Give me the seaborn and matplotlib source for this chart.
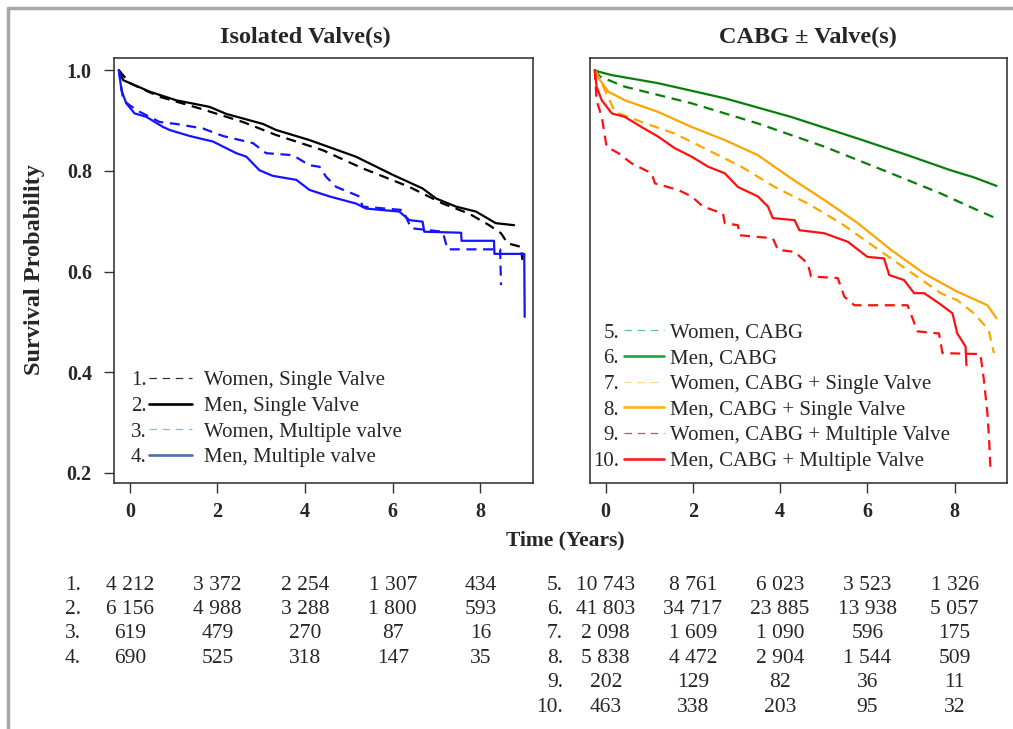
import numpy as np
import pandas as pd
import matplotlib
matplotlib.use("Agg")
import matplotlib.pyplot as plt
from matplotlib.lines import Line2D
from matplotlib.transforms import blended_transform_factory
import seaborn as sns

# ------------------------------------------------------------------ data
# Isolated valve(s) panel (Kaplan-Meier curves)
t_w_single = [-0.25, 0.00, 0.68, 1.59, 2.58, 3.34, 4.40, 5.31, 6.38, 7.14, 7.74, 8.20, 8.47, 8.62, 8.92, 8.96]
s_w_single = [1.000, 0.974, 0.947, 0.924, 0.897, 0.871, 0.841, 0.805, 0.768, 0.735, 0.715, 0.692, 0.676, 0.656, 0.649, 0.623]

t_m_single = [-0.25, -0.15, 0.46, 1.06, 1.82, 2.20, 3.04, 3.34, 4.10, 5.16, 6.00, 6.68, 6.99, 7.44, 7.90, 8.35, 8.77]
s_m_single = [1.000, 0.980, 0.957, 0.940, 0.927, 0.913, 0.893, 0.881, 0.861, 0.828, 0.792, 0.765, 0.745, 0.729, 0.719, 0.696, 0.692]

t_w_multi = [-0.25, -0.15, 0.00, 0.23, 0.68, 1.06, 1.67, 2.13, 2.81, 3.11, 3.72, 4.10, 4.33, 4.48, 4.71, 5.24, 5.31,
             6.23, 6.42, 7.14, 7.25, 8.45, 8.47]
s_w_multi = [1.000, 0.940, 0.930, 0.917, 0.897, 0.893, 0.884, 0.869, 0.855, 0.835, 0.831, 0.811, 0.808, 0.788, 0.768, 0.749, 0.729,
             0.722, 0.686, 0.679, 0.644, 0.644, 0.573]

t_m_multi = [-0.25, -0.19, -0.08, 0.11, 0.38, 0.76, 0.91, 1.37, 1.90, 2.43, 2.66, 2.96, 3.26, 3.80, 4.10, 4.56, 5.16, 5.39,
             6.15, 6.38, 6.68, 6.72, 7.56, 7.57, 8.31, 8.32, 9.00, 9.01]
s_m_multi = [1.000, 0.960, 0.934, 0.914, 0.907, 0.887, 0.881, 0.869, 0.858, 0.835, 0.828, 0.801, 0.790, 0.782, 0.762, 0.749, 0.735, 0.725,
             0.719, 0.702, 0.699, 0.679, 0.677, 0.661, 0.661, 0.635, 0.635, 0.510]

# CABG +/- valve(s) panel
t_w_cabg = [-0.25, -0.13, 0.44, 1.97, 3.49, 5.01, 6.54, 7.68, 8.44, 8.94]
s_w_cabg = [1.000, 0.987, 0.967, 0.934, 0.894, 0.848, 0.795, 0.755, 0.725, 0.706]

t_m_cabg = [-0.25, -0.17, 0.14, 1.20, 2.73, 4.25, 5.78, 6.92, 7.91, 8.44, 8.96]
s_m_cabg = [1.000, 0.997, 0.990, 0.974, 0.944, 0.907, 0.864, 0.831, 0.801, 0.787, 0.770]

t_w_cabg_single = [-0.25, -0.09, 0.21, 0.82, 1.58, 2.35, 3.11, 3.87, 4.63, 5.39, 6.16, 6.92, 7.68, 8.06, 8.44, 8.78, 8.90]
s_w_cabg_single = [1.000, 0.974, 0.917, 0.897, 0.874, 0.841, 0.808, 0.768, 0.735, 0.696, 0.649, 0.603, 0.557, 0.543, 0.517, 0.484, 0.438]

t_m_cabg_single = [-0.25, -0.13, 0.06, 0.44, 1.20, 1.97, 2.73, 3.49, 4.25, 5.01, 5.78, 6.54, 7.30, 8.06, 8.75, 8.96]
s_m_cabg_single = [1.000, 0.980, 0.957, 0.940, 0.917, 0.887, 0.861, 0.831, 0.785, 0.742, 0.696, 0.643, 0.596, 0.560, 0.533, 0.507]

t_w_cabg_multi = [-0.25, -0.21, -0.09, 0.02, 0.29, 0.59, 1.05, 1.13, 1.66, 1.97, 2.23, 2.69, 2.73, 3.03, 3.07, 3.83, 3.95,
                  4.33, 4.63, 4.71, 5.32, 5.47, 5.70, 6.92, 6.99, 7.15, 7.64, 7.72, 8.59, 8.67, 8.75, 8.79, 8.82]
s_w_cabg_multi = [1.000, 0.940, 0.907, 0.848, 0.835, 0.815, 0.795, 0.775, 0.762, 0.749, 0.729, 0.715, 0.696, 0.692, 0.672, 0.666, 0.643,
                  0.639, 0.616, 0.590, 0.587, 0.550, 0.533, 0.533, 0.517, 0.481, 0.477, 0.438, 0.436, 0.385, 0.319, 0.266, 0.209]

t_m_cabg_multi = [-0.25, -0.21, -0.09, 0.14, 0.44, 0.82, 1.20, 1.58, 1.97, 2.35, 2.73, 3.03, 3.49, 3.72, 3.83, 4.33, 4.44,
                  5.01, 5.55, 6.00, 6.38, 6.50, 6.84, 7.07, 7.30, 7.64, 7.95, 8.06, 8.25, 8.27]
s_m_cabg_multi = [1.000, 0.967, 0.940, 0.914, 0.907, 0.887, 0.868, 0.845, 0.828, 0.808, 0.795, 0.768, 0.749, 0.729, 0.706, 0.702, 0.682,
                  0.676, 0.659, 0.629, 0.626, 0.593, 0.583, 0.557, 0.557, 0.537, 0.517, 0.477, 0.451, 0.414]

left_labels = ["Women, Single Valve", "Men, Single Valve", "Women, Multiple valve", "Men, Multiple valve"]
right_labels = ["Women, CABG", "Men, CABG", "Women, CABG + Single Valve", "Men, CABG + Single Valve",
                "Women, CABG + Multiple Valve", "Men, CABG + Multiple Valve"]
left_numbers = ["1.", "2.", "3.", "4."]
right_numbers = ["5.", "6.", "7.", "8.", "9.", "10."]

# numbers at risk
risk_times = [0, 2, 4, 6, 8]
risk_left = [
    ["4 212", "3 372", "2 254", "1 307", "434"],
    ["6 156", "4 988", "3 288", "1 800", "593"],
    ["619", "479", "270", "87", "16"],
    ["690", "525", "318", "147", "35"],
]
risk_right = [
    ["10 743", "8 761", "6 023", "3 523", "1 326"],
    ["41 803", "34 717", "23 885", "13 938", "5 057"],
    ["2 098", "1 609", "1 090", "596", "175"],
    ["5 838", "4 472", "2 904", "1 544", "509"],
    ["202", "129", "82", "36", "11"],
    ["463", "338", "203", "95", "32"],
]

left_curves = [(t_w_single, s_w_single), (t_m_single, s_m_single), (t_w_multi, s_w_multi), (t_m_multi, s_m_multi)]
right_curves = [(t_w_cabg, s_w_cabg), (t_m_cabg, s_m_cabg), (t_w_cabg_single, s_w_cabg_single),
                (t_m_cabg_single, s_m_cabg_single), (t_w_cabg_multi, s_w_cabg_multi), (t_m_cabg_multi, s_m_cabg_multi)]

# ------------------------------------------------------------------ styles
left_colors = ["#000000", "#000000", "#1414ff", "#1414ff"]
right_colors = ["#0b7d0b", "#0b7d0b", "#ffa500", "#ffa500", "#ff1010", "#ff1010"]
left_leg_colors = ["#333333", "#000000", "#9bb5da", "#4a6ea6"]
right_leg_colors = ["#5cc97f", "#1aa63f", "#ffd98c", "#ffb21a", "#ff3a3a", "#ff1a1a"]
plot_dash = (4.5, 3.0)

sns.set_style("white")
plt.rcParams["font.family"] = ["Liberation Serif", "DejaVu Serif"]
plt.rcParams["font.size"] = 14

W, H = 1013, 729
fig = plt.figure(figsize=(W / 100, H / 100), dpi=100)


def fx(px):
    return px / W


def fy(py):
    return 1 - py / H


ax1 = fig.add_axes([fx(114), fy(483), fx(533) - fx(114), fy(58) - fy(483)])
ax2 = fig.add_axes([fx(590), fy(483), fx(1007) - fx(590), fy(58) - fy(483)])


def make_df(curves, labels):
    frames = []
    for (t, s), lab in zip(curves, labels):
        frames.append(pd.DataFrame({"time": t, "surv": s, "group": lab}))
    return pd.concat(frames, ignore_index=True)


def draw_panel(ax, curves, labels, colors):
    df = make_df(curves, labels)
    palette = {lab: c for lab, c in zip(labels, colors)}
    dashes = {lab: (plot_dash if lab.startswith("Women") else "") for lab in labels}
    sns.lineplot(data=df, x="time", y="surv", hue="group", style="group", palette=palette,
                 dashes=dashes, sort=False, estimator=None, legend=False, linewidth=1.6, ax=ax)


draw_panel(ax1, left_curves, left_labels, left_colors)
draw_panel(ax2, right_curves, right_labels, right_colors)

for ax in (ax1, ax2):
    ax.set_xlim(-0.36, 9.2)
    ax.set_ylim(0.18, 1.024)
    ax.set_xticks(risk_times)
    ax.set_xlabel("")
    ax.set_ylabel("")
    for sp in ax.spines.values():
        sp.set_color("#2a2a2a")
        sp.set_linewidth(1.1)
    ax.tick_params(axis="both", direction="out", length=7, width=1.0, color="#333333",
                   labelsize=14.5, pad=7)
    for lab in ax.get_xticklabels():
        lab.set_fontweight("bold")

ax1.set_yticks([0.2, 0.4, 0.6, 0.8, 1.0])
ax1.set_yticklabels(["0.2", "0.4", "0.6", "0.8", "1.0"], fontweight="bold")
ax1.tick_params(axis="y", left=True, pad=9)
ax1.tick_params(axis="x", bottom=True)
ax2.tick_params(axis="x", bottom=True)
ax2.tick_params(axis="y", left=False, labelleft=False)

ax1.set_title("Isolated Valve(s)", fontsize=17.5, fontweight="bold", pad=11, x=0.456)
ax2.set_title("CABG \u00b1 Valve(s)", fontsize=17.5, fontweight="bold", pad=11, x=0.523)

fig.text(fx(35), fy(270), "Survival Probability", rotation=90, ha="center", va="center",
         fontsize=17.5, fontweight="bold")
fig.text(fx(565), fy(540), "Time (Years)", ha="center", va="center", fontsize=15.5, fontweight="bold")


# ------------------------------------------------------------------ legends
def add_legend(ax, numbers, labels, colors, num_x, text_x, center_y, hlen, pad):
    handles = []
    for lab, c in zip(labels, colors):
        if lab.startswith("Women"):
            handles.append(Line2D([], [], color=c, lw=0.9, dashes=(6, 4.5)))
        else:
            handles.append(Line2D([], [], color=c, lw=1.9))
    common = dict(frameon=False, fontsize=15, labelspacing=0.29, borderpad=0, borderaxespad=0,
                  loc="center left")
    leg1 = ax.legend(handles, numbers, markerfirst=False, handlelength=hlen, handletextpad=pad,
                     bbox_to_anchor=(num_x, center_y), **common)
    ax.add_artist(leg1)
    blanks = [Line2D([], [], linestyle="none") for _ in labels]
    ax.legend(blanks, labels, handlelength=0, handletextpad=0,
              bbox_to_anchor=(text_x, center_y), **common)


add_legend(ax1, left_numbers, left_labels, left_leg_colors,
           num_x=(131 - 114) / 419, text_x=(204 - 114) / 419, center_y=(483 - 419) / 425, hlen=2.07, pad=0.12)
add_legend(ax2, right_numbers, right_labels, right_leg_colors,
           num_x=(593 - 590) / 417, text_x=(670 - 590) / 417, center_y=(483 - 397) / 425, hlen=1.92, pad=0.22)

# ------------------------------------------------------------------ numbers at risk
row0, row_step = 585, 24.4
tr1 = blended_transform_factory(ax1.transData, fig.transFigure)
tr2 = blended_transform_factory(ax2.transData, fig.transFigure)
for i, (num, row) in enumerate(zip(left_numbers, risk_left)):
    y = fy(row0 + i * row_step)
    fig.text(fx(65), y, num, ha="left", va="center", fontsize=15.5)
    for t, v in zip(risk_times, row):
        ax1.text(t, y, v, transform=tr1, ha="center", va="center", fontsize=15.5, clip_on=False)
for i, (num, row) in enumerate(zip(right_numbers, risk_right)):
    y = fy(row0 + i * row_step)
    fig.text(fx(563), y, num, ha="right", va="center", fontsize=15.5)
    for t, v in zip(risk_times, row):
        ax2.text(t, y, v, transform=tr2, ha="center", va="center", fontsize=15.5, clip_on=False)

# ------------------------------------------------------------------ frame
fig.add_artist(Line2D([fx(8), fx(8)], [0, fy(8)], transform=fig.transFigure, color="#a8a8a8", lw=2.5))
fig.add_artist(Line2D([fx(8), 1], [fy(8), fy(8)], transform=fig.transFigure, color="#a8a8a8", lw=2.5))

fig.savefig("out.png", dpi=100)
